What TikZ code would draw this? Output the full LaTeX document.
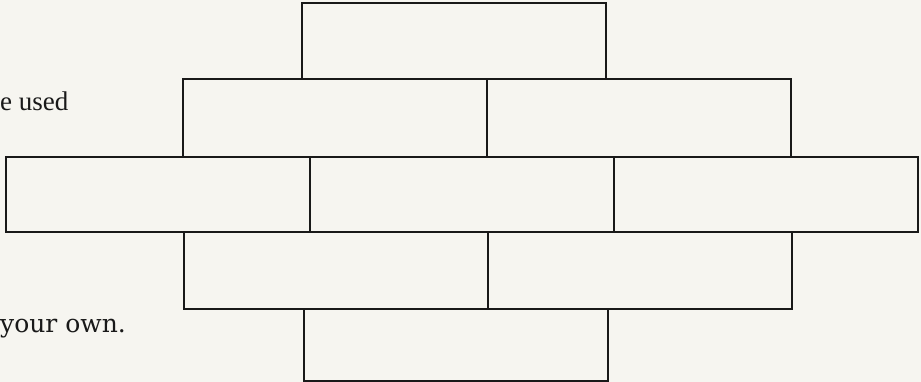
\documentclass[tikz,border=0pt]{standalone}
\usepackage{fontspec}
\setmainfont{Liberation Serif}
\newfontfamily\widefont{DejaVu Serif}
\definecolor{paper}{RGB}{246,245,240}
\definecolor{ink}{RGB}{25,25,25}
\tikzset{
    brick/.style={draw=ink, line width=1.6pt, minimum width=304pt,
        inner sep=0pt, outer sep=0pt, anchor=north west},
    margintext/.style={anchor=base west, inner sep=0pt, text=ink}
}
\begin{document}
\begin{tikzpicture}[x=1pt,y=-1pt]
    \fill[paper] (0,0) rectangle (921,382);
    \useasboundingbox (0,0) rectangle (921,382);

    % top course
    \node[brick, minimum height=76pt] (top) at (302,3) {};

    \node[brick, minimum height=78pt] (upl) at (183,79) {};
    \node[brick, minimum height=78pt] (upr) at (487,79) {};

    % middle course
    \node[brick, minimum height=75pt] (midl) at (6,157) {};
    \node[brick, minimum height=75pt] (midc) at (310,157) {};
    \node[brick, minimum height=75pt] (midr) at (614,157) {};

    \node[brick, minimum height=77pt] (lowl) at (184,232) {};
    \node[brick, minimum height=77pt] (lowr) at (488,232) {};

    % bottom course
    \node[brick, minimum height=72pt] (bot) at (304,309) {};

    \node[margintext, font=\fontsize{27}{32}\selectfont] (used) at (0,111) {e used};
    \node[margintext, font=\widefont\fontsize{25}{30}\selectfont] (own) at (0,332) {your own.};
\end{tikzpicture}
\end{document}
